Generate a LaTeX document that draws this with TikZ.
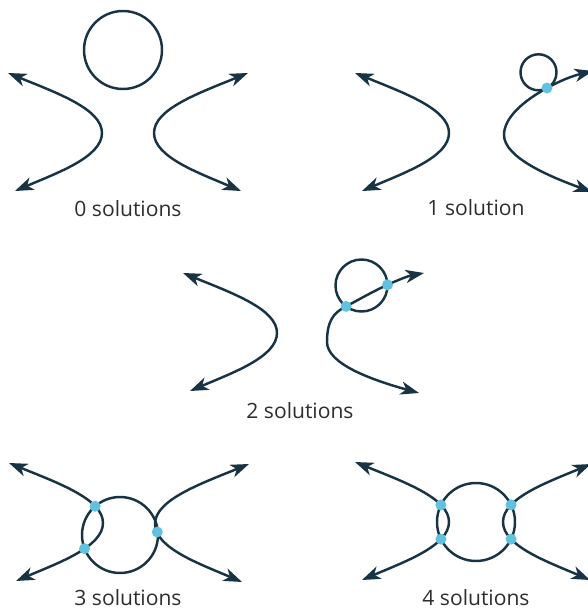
\documentclass[tikz,border=0pt]{standalone}
\usepackage{fontspec}
\setmainfont{Open Sans}
\usetikzlibrary{arrows.meta, intersections}
\definecolor{cLine}{RGB}{24,52,68}
\definecolor{cDot}{RGB}{96,194,222}
\definecolor{cText}{RGB}{45,45,45}
\tikzset{
	branch/.style ={line width=1.4pt, draw=cLine, >={Stealth[length=10.5pt, width=7.5pt, inset=3pt]}, <->},
	ring/.style   ={line width=1.4pt, draw=cLine},
	hit/.style    ={fill=cDot},
	caption/.style={font=\fontsize{12}{14}\selectfont, text=cText},
}
% branch opening to the left, vertex at (#1,#2), path name #3
\newcommand{\lbranch}[3]{%
	\draw[branch, name path=#3] ({#1-94},{#2-60}) .. controls ({#1-45},{#2-40}) and (#1,{#2-24}) .. (#1,#2) .. controls (#1,{#2+24}) and ({#1-45},{#2+40}) .. ({#1-87},{#2+58});}
% branch opening to the right, vertex at (#1,#2), path name #3
\newcommand{\rbranch}[3]{%
	\draw[branch, name path=#3] ({#1+94},{#2-60}) .. controls ({#1+45},{#2-40}) and (#1,{#2-24}) .. (#1,#2) .. controls (#1,{#2+24}) and ({#1+45},{#2+40}) .. ({#1+87},{#2+58});}

\begin{document}
\begin{tikzpicture}[x=0.02cm, y=-0.02cm]
	\useasboundingbox (0,0) rectangle (588,612);
	% ---------- 0 solutions ----------
	\draw[ring] (123,50) circle[radius=39];
	\lbranch{102}{133}{p0l}
	\rbranch{154}{133}{p0r}
	\node[caption] (cap0) at (128,209) {0 solutions};
	% ---------- 1 solution ----------
	\lbranch{449}{133}{p1l}
	\draw[branch] (593,71) .. controls (572,76) and (560,80.8) .. (547,88) .. controls (522.5,101.5) and (504,118) .. (504,135) .. controls (504,157) and (548,176) .. (592,192);
	\draw[ring] (538.5,72.3) circle[radius=18];
	\coordinate (t1) at (547,88);
	\node[caption] (cap1) at (476,208) {1 solution};
	% ---------- 2 solutions ----------
	\lbranch{277}{333}{p2l}
	\draw[branch, name path=p2r] (424,273) .. controls (408,276) and (398,280) .. (387,285) .. controls (372,292) and (358,300) .. (345,307) .. controls (333,313) and (327,322) .. (327,342) .. controls (327,364) and (372,380) .. (419,393);
	\draw[ring, name path=p2c] (361.5,285.5) circle[radius=26];
	\node[caption] (cap2) at (300,411) {2 solutions};
	% ---------- 3 solutions ----------
	\lbranch{103}{523}{p3l}
	\rbranch{155}{524}{p3r}
	\draw[ring, name path=p3c] (120,535) circle[radius=38];
	\coordinate (t3) at (157.3,532);
	\node[caption] (cap3) at (128,598) {3 solutions};
	% ---------- 4 solutions ----------
	\lbranch{449}{522}{p4l}
	\draw[branch, name path=p4r] (591,464) .. controls (548,482) and (503,498) .. (503,522) .. controls (503,546) and (548,562) .. (590,580);
	\draw[ring, name path=p4c] (476,522) circle[radius=39];
	\node[caption] (cap4) at (476,598) {4 solutions};
	% ---------- points of contact ----------
	\fill[hit] (t1) circle[radius=5.5] (t3) circle[radius=5.5];
	\fill[hit, name intersections={of=p2r and p2c}] (intersection-1) circle[radius=5.5] (intersection-2) circle[radius=5.5];
	\fill[hit, name intersections={of=p3l and p3c}] (intersection-1) circle[radius=5.5] (intersection-2) circle[radius=5.5];
	\fill[hit, name intersections={of=p4l and p4c}] (intersection-1) circle[radius=5.5] (intersection-2) circle[radius=5.5];
	\fill[hit, name intersections={of=p4r and p4c}] (intersection-1) circle[radius=5.5] (intersection-2) circle[radius=5.5];
\end{tikzpicture}
\end{document}
